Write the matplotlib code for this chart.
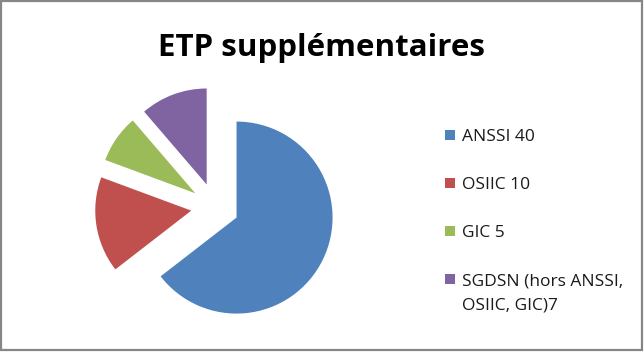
import matplotlib.pyplot as plt
from matplotlib.patches import Rectangle

# donnees
labels = ['ANSSI 40', 'OSIIC 10', 'GIC 5', 'SGDSN (hors ANSSI,\nOSIIC, GIC)7']
values = [40, 10, 5, 7]
colors = ['#4F81BD', '#C0504D', '#9BBB59', '#8064A2']
title = 'ETP supplémentaires'

W, H = 644, 352
fig = plt.figure(figsize=(W / 100, H / 100), dpi=100)
fig.patch.set_facecolor('white')


def px(x, y):
    # pixels (origine en haut a gauche) -> coordonnees figure
    return x / W, 1 - y / H


# cadre gris autour du graphique
fig.patches.append(Rectangle((1 / W, 2 / H), 641 / W, 349 / H, transform=fig.transFigure,
                             fill=False, edgecolor='#868686', linewidth=1.6))

# camembert : centre ~(215, 207) px, rayon ~96 px
r_px = 96
cx, cy = 215, H - 207
half = 1.5 * r_px
ax = fig.add_axes([(cx - half) / W, (cy - half) / H, 2 * half / W, 2 * half / H])
wedges, _ = ax.pie(values, colors=colors, startangle=90, counterclock=False,
                   explode=[0.25] * len(values), radius=1.0,
                   wedgeprops=dict(linewidth=0))
ax.set_xlim(-1.5, 1.5)
ax.set_ylim(-1.5, 1.5)
ax.set_aspect('equal')
ax.axis('off')

fig.text(*px(322, 56), title, ha='center', va='baseline',
         fontsize=22.5, fontweight='bold', family='Open Sans')

# legende a droite (une ligne de texte par ligne du libelle)
for i, (lab, col) in enumerate(zip(labels, colors)):
    base = 141 + 48 * i
    x0, y0 = px(445, base - 1)
    fig.patches.append(Rectangle((x0, y0), 10 / W, 10 / H, transform=fig.transFigure,
                                 facecolor=col, edgecolor='none'))
    for j, line in enumerate(lab.split('\n')):
        fig.text(*px(462, base + 25 * j), line, ha='left', va='baseline',
                 fontsize=12.5, family='Open Sans', color='#1a1a1a')

fig.savefig('out.png', dpi=100)
